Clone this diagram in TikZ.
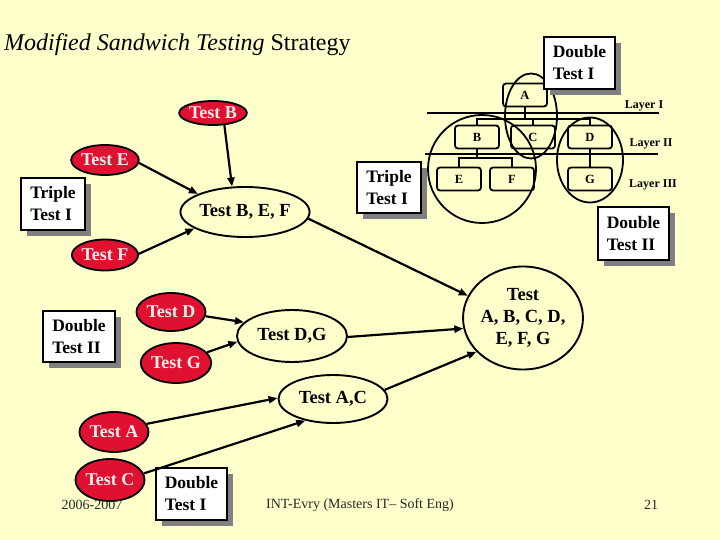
\documentclass[tikz,border=0pt]{standalone}
\usepackage{fontspec}
\setmainfont{Liberation Serif}
\usetikzlibrary{shapes.geometric,arrows.meta,shadows}
\definecolor{bg}{RGB}{255,255,204}
\definecolor{tred}{RGB}{224,16,48}
\definecolor{tpink}{RGB}{255,235,235}
\definecolor{shd}{RGB}{128,128,128}
\definecolor{foot}{RGB}{40,40,40}
\begin{document}
\begin{tikzpicture}[x=1pt,y=-1pt,
  redell/.style={ellipse, draw=black, line width=1.8pt, fill=tred, text=tpink,
    font=\bfseries\fontsize{18}{19}\selectfont, inner sep=0pt, minimum width=65pt},
  wellip/.style={ellipse, draw=black, line width=1.9pt, inner sep=0pt,
    font=\bfseries\fontsize{18.5}{22}\selectfont, align=center},
  sbox/.style={draw=black, line width=1.8pt, fill=white, align=left, inner sep=0pt,
    font=\bfseries\fontsize{17.5}{22}\selectfont,
    drop shadow={shadow xshift=6pt, shadow yshift=-6pt, fill=shd, opacity=1}},
  tbox/.style={draw=black, line width=1.8pt, rounded corners=3pt, inner sep=0pt,
    minimum width=44pt, minimum height=23pt, font=\bfseries\fontsize{12.5}{13}\selectfont},
  encl/.style={ellipse, draw=black, line width=1.8pt, inner sep=0pt},
  tline/.style={line width=1.8pt},
  layer/.style={font=\bfseries\fontsize{12}{13}\selectfont},
  arr/.style={line width=2.2pt, -{Triangle[length=9pt,width=7pt]}},
  foottxt/.style={text=foot, font=\fontsize{14}{15}\selectfont}]
\useasboundingbox[fill=bg] (0,0) rectangle (720,540);

% title
\node[anchor=west, inner sep=0pt, font=\fontsize{24}{26}\selectfont] (title) at (4,45)
  {\textit{Modified Sandwich Testing} Strategy};

% tree diagram
\node[tbox] (A) at (525,95) {A};
\node[tbox] (B) at (477,137) {B};
\node[tbox] (C) at (533,137) {C};
\node[tbox] (D) at (590,137) {D};
\node[tbox] (E) at (459,179) {E};
\node[tbox] (F) at (512,179) {F};
\node[tbox] (G) at (590,179) {G};
\coordinate (jA) at (525,119);
\coordinate (jB) at (477,158);
\draw[tline] (A.south) -- (jA);
\draw[tline] (B.north) |- (jA) -| (D.north);
\draw[tline] (C.north) -- (C.north |- jA);
\draw[tline] (B.south) -- (jB);
\draw[tline] (E.north) |- (jB) -| (F.north);
\draw[tline] (D.south) -- (G.north);
\coordinate (l1a) at (427,113); \coordinate (l1b) at (659,113);
\coordinate (l2a) at (425,154); \coordinate (l2b) at (658,154);
\draw[tline] (l1a) -- (l1b);
\draw[tline] (l2a) -- (l2b);
\node[encl, minimum width=52pt, minimum height=85pt] (eAC) at (531,116) {};
\node[encl, minimum width=108pt, minimum height=108pt] (eBEF) at (482,169) {};
\node[encl, minimum width=66pt, minimum height=85pt] (eDG) at (590,160) {};
\node[layer] (L1) at (644,106) {Layer I};
\node[layer] (L2) at (651,144) {Layer II};
\node[layer] (L3) at (653,185) {Layer III};

% shadowed boxes
\node[sbox, minimum width=64pt, minimum height=52pt] (tt1) at (53,204) {Triple\\Test I};
\node[sbox, minimum width=71pt, minimum height=52pt] (dt1a) at (579.5,63) {Double\\Test I};
\node[sbox, minimum width=64pt, minimum height=51pt] (tt1b) at (389,187.5) {Triple\\Test I};
\node[sbox, minimum width=71pt, minimum height=53pt] (dt2a) at (633.5,233.5) {Double\\Test II};
\node[sbox, minimum width=72pt, minimum height=51pt] (dt2b) at (79,336.5) {Double\\Test II};
\node[sbox, minimum width=71pt, minimum height=52pt] (dt1b) at (191.5,494) {Double\\Test I};

% red ellipses
\node[redell, minimum width=56pt, minimum height=24pt] (tb) at (213,113) {Test B};
\node[redell, minimum width=64pt, minimum height=30pt] (te) at (105,160) {Test E};
\node[redell, minimum width=64pt, minimum height=31pt] (tf) at (105,255) {Test F};
\node[redell, minimum width=65pt, minimum height=38pt] (td) at (171,312) {Test D};
\node[redell, minimum width=64pt, minimum height=40pt] (tg) at (176,363) {Test G};
\node[redell, minimum width=65pt, minimum height=40pt] (ta) at (114,432) {Test A};
\node[redell, minimum width=65pt, minimum height=42pt] (tc) at (110,480) {Test C};

% white ellipses
\node[wellip, minimum width=109pt, minimum height=50pt] (bef) at (245,212) {Test B, E, F};
\node[wellip, minimum width=110pt, minimum height=52pt] (dg) at (292,336) {Test D,G};
\node[wellip, minimum width=109pt, minimum height=48pt] (ac) at (333,399) {Test A,C};
\node[wellip, minimum width=108pt, minimum height=103pt] (all) at (523,318) {Test\\A, B, C, D,\\E, F, G};

% arrows
\draw[arr] (tb.-47) -- (bef.117);
\draw[arr] (te.-5) -- (bef.159);
\draw[arr] (tf.2) -- (bef.198);
\draw[arr] (bef.-6) -- (all.158);
\draw[arr] (td.-7) -- (dg.164);
\draw[arr] (tg.19) -- (dg.186);
\draw[arr] (dg.-1) -- (all.190);
\draw[arr] (ta.14) -- (ac.179);
\draw[arr] (tc.11) -- (ac.218);
\draw[arr] (ac.10) -- (all.216);

% footer
\node[foottxt] (f1) at (92,505) {2006-2007};
\node[foottxt] (f2) at (360,505) {INT-Evry (Masters IT– Soft Eng)};
\node[foottxt] (f3) at (651,505) {21};
\end{tikzpicture}
\end{document}
